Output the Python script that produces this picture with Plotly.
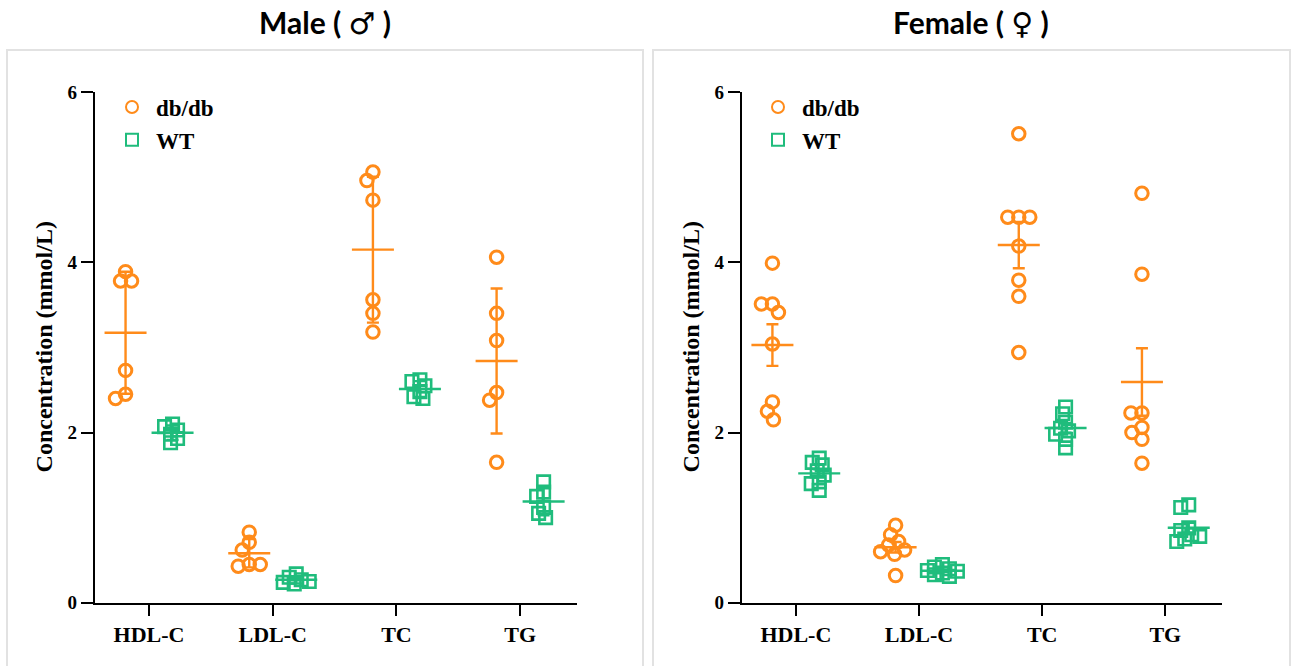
import numpy as np
import plotly.graph_objects as go

# ---------------- data ----------------
categories = ["HDL-C", "LDL-C", "TC", "TG"]
groups = ["db/db", "WT"]

male_dbdb = {
    "HDL-C": [3.89, 3.78, 3.78, 2.73, 2.45, 2.40],
    "LDL-C": [0.83, 0.71, 0.62, 0.45, 0.43, 0.45],
    "TC":    [5.06, 4.96, 4.73, 3.56, 3.40, 3.18],
    "TG":    [4.06, 3.40, 3.08, 2.47, 2.38, 1.65],
}
male_wt = {
    "HDL-C": [2.10, 2.07, 2.03, 1.98, 1.93, 1.88],
    "LDL-C": [0.34, 0.30, 0.27, 0.25, 0.24, 0.22],
    "TC":    [2.62, 2.60, 2.55, 2.48, 2.42, 2.40],
    "TG":    [1.42, 1.30, 1.25, 1.12, 1.05, 1.00],
}
female_dbdb = {
    "HDL-C": [3.99, 3.51, 3.51, 3.41, 3.04, 2.36, 2.25, 2.15],
    "LDL-C": [0.91, 0.80, 0.72, 0.68, 0.62, 0.60, 0.57, 0.32],
    "TC":    [5.51, 4.53, 4.53, 4.53, 4.19, 3.79, 3.60, 2.94],
    "TG":    [4.81, 3.86, 2.23, 2.23, 2.06, 2.00, 1.92, 1.64],
}
female_wt = {
    "HDL-C": [1.70, 1.65, 1.62, 1.55, 1.50, 1.42, 1.40, 1.32],
    "LDL-C": [0.45, 0.42, 0.40, 0.38, 0.37, 0.35, 0.33, 0.31],
    "TC":    [2.30, 2.22, 2.12, 2.05, 2.02, 1.98, 1.92, 1.82],
    "TG":    [1.15, 1.12, 0.88, 0.85, 0.80, 0.78, 0.75, 0.72],
}
y_ticks = [0, 2, 4, 6]
panel_titles = ["Male", "Female"]
panel_symbols = ["\u2642", "\u2640"]
y_title = "Concentration (mmol/L)"

# ---------------- style ----------------
W, H = 1292, 666
ORANGE = "#FF8B1A"
GREEN = "#1FBC7C"
SERIF = "Liberation Serif"
X_RANGE = [-0.437, 3.46]
Y_RANGE = [0, 6]
left_px = [(95, 577), (742, 1222)]
group_offset = 0.19

# vertical page calibration (screen px -> figure px)
CAL_A, CAL_B = 11.1, 0.967


def fy(screen_px):
    return (screen_px - CAL_A) / CAL_B


def py(screen_px):
    """paper fraction for a screen y pixel"""
    return (H - fy(screen_px)) / H


y_top_px, y_bot_px = fy(93), fy(603)


def pdom(a, b):
    return [a / W, b / W]


ydom = [(H - y_bot_px) / H, (H - y_top_px) / H]
ypx_per_unit = (y_bot_px - y_top_px) / (Y_RANGE[1] - Y_RANGE[0])


def swarm(vals, xpx_per_unit, d):
    placed = []
    offs = []
    for v in vals:
        y = v * ypx_per_unit
        k = 0
        while True:
            dx = ((k + 1) // 2) * (-1 if k % 2 else 1)
            if all((dx - px) ** 2 + (y - pyy) ** 2 >= d * d for px, pyy in placed):
                break
            k += 1
        placed.append((dx, y))
        offs.append(dx / xpx_per_unit)
    return offs


fig = go.Figure()

datasets = [(male_dbdb, male_wt, "sd"), (female_dbdb, female_wt, "sem")]
for p, (dbdb, wt, err_kind) in enumerate(datasets):
    xa = "x" if p == 0 else "x2"
    ya = "y" if p == 0 else "y2"
    leg = "legend" if p == 0 else "legend2"
    xpx_per_unit = (left_px[p][1] - left_px[p][0]) / (X_RANGE[1] - X_RANGE[0])
    for g, (data, color, symbol, off, dmin, msize, lw) in enumerate(
        [(dbdb, ORANGE, "circle-open", -group_offset, 10.5, 12.5, 3.0),
         (wt, GREEN, "square-open", group_offset, 7.5, 12.5, 2.6)]):
        xs, ys = [], []
        mx, my, me = [], [], []
        for ci, cat in enumerate(categories):
            vals = data[cat]
            jit = swarm(vals, xpx_per_unit, dmin)
            xs += [ci + off + j for j in jit]
            ys += vals
            arr = np.array(vals)
            sd = arr.std(ddof=1)
            e = sd if err_kind == "sd" else sd / np.sqrt(len(arr))
            mx.append(ci + off)
            my.append(arr.mean())
            me.append(e)
        fig.add_trace(go.Scatter(
            x=xs, y=ys, mode="markers", xaxis=xa, yaxis=ya,
            name=groups[g], legend=leg, showlegend=True,
            marker=dict(symbol=symbol, size=msize, color=color,
                        line=dict(width=lw, color=color)),
            cliponaxis=False,
        ))
        fig.add_trace(go.Scatter(
            x=mx, y=my, mode="markers", xaxis=xa, yaxis=ya, showlegend=False,
            marker=dict(symbol="line-ew", size=30, color=color,
                        line=dict(width=2.4, color=color)),
            error_y=dict(type="data", array=me, visible=True, color=color,
                         thickness=2.4, width=6),
            cliponaxis=False,
        ))

axis_common = dict(showline=True, linecolor="black", linewidth=2.3,
                   ticks="outside", tickcolor="black", tickwidth=2.3,
                   showgrid=False, zeroline=False)

for p in range(2):
    sfx = "" if p == 0 else "2"
    fig.update_layout(**{
        "xaxis" + sfx: dict(axis_common, domain=pdom(*left_px[p]), range=X_RANGE,
                            tickvals=list(range(len(categories))), ticktext=categories,
                            ticklen=11, anchor="y" + sfx, fixedrange=True,
                            tickfont=dict(family=SERIF, size=22, color="black", weight="bold")),
        "yaxis" + sfx: dict(axis_common, domain=ydom, range=Y_RANGE, tickvals=y_ticks,
                            ticklen=12, anchor="x" + sfx, fixedrange=True,
                            tickfont=dict(family=SERIF, size=19, color="black", weight="bold")),
    })

legend_common = dict(font=dict(family=SERIF, size=23, color="black", weight="bold"),
                     bgcolor="rgba(0,0,0,0)", xanchor="left", yanchor="top",
                     itemsizing="constant", tracegroupgap=0, itemwidth=38)
fig.update_layout(
    legend=dict(legend_common, x=108 / W, y=py(86.5)),
    legend2=dict(legend_common, x=754 / W, y=py(86.5)),
)

annotations = []
for p, cx in enumerate([325, 971]):
    txt = ("<b>" + panel_titles[p] + " ( </b><span style='font-family:DejaVu Sans'>"
           + panel_symbols[p] + "</span><b> )</b>")
    annotations.append(dict(text=txt, x=cx / W, y=py(24),
                            xref="paper", yref="paper", showarrow=False,
                            xanchor="center", yanchor="middle",
                            font=dict(family="Lato", size=30, color="black")))
for p, lx in enumerate([44, 691]):
    annotations.append(dict(text=y_title, x=lx / W, y=py(348), xref="paper", yref="paper",
                            showarrow=False, textangle=-90, xanchor="center", yanchor="middle",
                            font=dict(family=SERIF, size=24, color="black", weight="bold")))

shapes = []
for (a, b) in [(7, 643), (653, 1290)]:
    shapes.append(dict(type="rect", xref="paper", yref="paper",
                       x0=a / W, x1=b / W, y0=py(680), y1=py(51),
                       line=dict(color="#E2E2E2", width=2), layer="below"))

fig.update_layout(width=W, height=H, margin=dict(l=0, r=0, t=0, b=0),
                  paper_bgcolor="white", plot_bgcolor="white",
                  annotations=annotations, shapes=shapes)

fig.write_html("out.html", config={"displayModeBar": False},
               post_script="document.body.style.margin='0';document.body.style.overflow='hidden';")
